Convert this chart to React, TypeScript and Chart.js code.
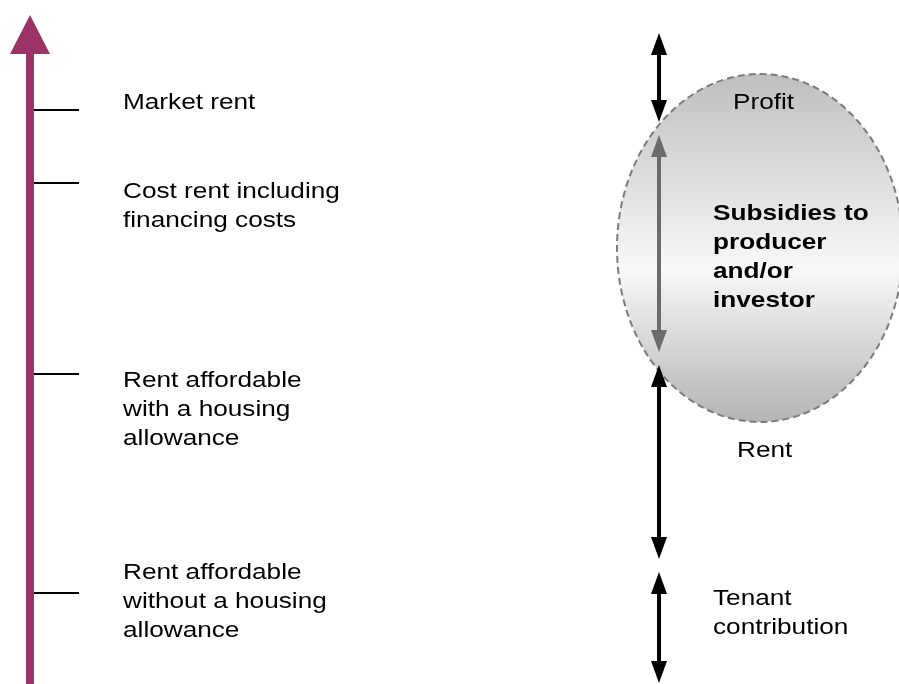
import { useEffect, useRef } from "react";
import { Chart, registerables } from "chart.js";

Chart.register(...registerables);

// ---- Left axis: rent levels (vertical units, 0 = bottom of the diagram) ----
const levelNames = [
  "Market rent",
  "Cost rent including\nfinancing costs",
  "Rent affordable\nwith a housing\nallowance",
  "Rent affordable\nwithout a housing\nallowance",
];
const levelValues = [574, 501, 310, 91];
const levelLabelBaselines = [575, 486, 297, 105];
const axisBottom = 0;
const axisTop = 669;

// ---- Right side: components of the rent ----
const segmentNames = [
  "Profit",
  "Subsidies to\nproducer\nand/or\ninvestor",
  "Rent",
  "Tenant\ncontribution",
];
const segmentTops = [651, 549, 319, 112];
const segmentBottoms = [562, 332, 125, 1];
const segmentColors = ["#000000", "#6b6b6b", "#000000", "#000000"];
const segmentBold = [false, true, false, false];
const segmentLabelX = [733, 713, 737, 713];
const segmentLabelBaselines = [575, 464, 227, 79];

// subsidy ellipse (centre and radii in axis units)
const ellipseCenterX = [760];
const ellipseCenterY = [436];
const ellipseRadiusX = [143];
const ellipseRadiusY = [174];

// horizontal placements (axis units)
const axisX = 30;
const tickStartX = 34;
const tickEndX = 79;
const levelLabelX = 123;
const segmentArrowX = 659;

const PURPLE = "#9b3366";
const FONT = '"Liberation Sans", Arial, Helvetica, sans-serif';
const TEXT_SCALE_X = 1.19;
const LINE_GAP = 29;

const diagramPlugin = {
  id: "diagram",
  beforeDatasetsDraw(chart: any) {
    const { ctx } = chart;
    const xs = chart.scales.x;
    const ys = chart.scales.y;
    for (let i = 0; i < ellipseCenterX.length; i++) {
      const cx = xs.getPixelForValue(ellipseCenterX[i]);
      const cy = ys.getPixelForValue(ellipseCenterY[i]);
      const rx = Math.abs(xs.getPixelForValue(ellipseCenterX[i] + ellipseRadiusX[i]) - cx);
      const ry = Math.abs(ys.getPixelForValue(ellipseCenterY[i] + ellipseRadiusY[i]) - cy);
      ctx.save();
      const g = ctx.createLinearGradient(0, cy - ry, 0, cy + ry);
      g.addColorStop(0, "#bfbfbf");
      g.addColorStop(0.56, "#f8f8f8");
      g.addColorStop(1, "#b4b4b4");
      ctx.beginPath();
      ctx.ellipse(cx, cy, rx, ry, 0, 0, Math.PI * 2);
      ctx.fillStyle = g;
      ctx.fill();
      ctx.setLineDash([7, 4]);
      ctx.lineWidth = 2;
      ctx.strokeStyle = "#7c7c7c";
      ctx.stroke();
      ctx.restore();
    }
  },
  beforeDatasetDraw(chart: any, args: any) {
    const ds: any = chart.data.datasets[args.index];
    if (!ds.arrow) return;
    const { ctx } = chart;
    const pts = args.meta.data;
    const a = pts[0];
    const b = pts[1];
    const dx = b.x - a.x;
    const dy = b.y - a.y;
    const len = Math.hypot(dx, dy) || 1;
    const ux = dx / len;
    const uy = dy / len;
    const { headLen, headHalf, width, start, end } = ds.arrow;
    const color = ds.borderColor;
    ctx.save();
    ctx.strokeStyle = color;
    ctx.fillStyle = color;
    ctx.lineWidth = width;
    ctx.lineCap = "butt";
    const sx = a.x + (start ? ux * headLen * 0.9 : 0);
    const sy = a.y + (start ? uy * headLen * 0.9 : 0);
    const ex = b.x - (end ? ux * headLen * 0.9 : 0);
    const ey = b.y - (end ? uy * headLen * 0.9 : 0);
    ctx.beginPath();
    ctx.moveTo(sx, sy);
    ctx.lineTo(ex, ey);
    ctx.stroke();
    const head = (px: number, py: number, dirx: number, diry: number) => {
      const bx = px - dirx * headLen;
      const by = py - diry * headLen;
      const nx = -diry;
      const ny = dirx;
      ctx.beginPath();
      ctx.moveTo(px, py);
      ctx.lineTo(bx + nx * headHalf, by + ny * headHalf);
      ctx.lineTo(bx - nx * headHalf, by - ny * headHalf);
      ctx.closePath();
      ctx.fill();
    };
    if (end) head(b.x, b.y, ux, uy);
    if (start) head(a.x, a.y, -ux, -uy);
    ctx.restore();
    return false;
  },
  afterDatasetsDraw(chart: any) {
    const { ctx } = chart;
    const xs = chart.scales.x;
    const ys = chart.scales.y;
    const drawBlock = (text: string, xv: number, yv: number, bold: boolean) => {
      const px = xs.getPixelForValue(xv);
      const py = ys.getPixelForValue(yv);
      ctx.save();
      ctx.font = `${bold ? "bold " : ""}22px ${FONT}`;
      ctx.fillStyle = "#000000";
      ctx.textAlign = "left";
      ctx.textBaseline = "alphabetic";
      text.split("\n").forEach((line, i) => {
        ctx.save();
        ctx.translate(px, py + i * LINE_GAP);
        ctx.scale(TEXT_SCALE_X, 1);
        ctx.fillText(line, 0, 0);
        ctx.restore();
      });
      ctx.restore();
    };
    levelNames.forEach((n, i) => drawBlock(n, levelLabelX, levelLabelBaselines[i], false));
    segmentNames.forEach((n, i) =>
      drawBlock(n, segmentLabelX[i], segmentLabelBaselines[i], segmentBold[i])
    );
  },
};

export default function App() {
  const canvasRef = useRef<HTMLCanvasElement | null>(null);

  useEffect(() => {
    document.body.style.margin = "0";
    const canvas = canvasRef.current;
    if (!canvas) return;

    const datasets: any[] = [];
    datasets.push({
      type: "line",
      data: [
        { x: axisX, y: axisBottom },
        { x: axisX, y: axisTop },
      ],
      borderColor: PURPLE,
      borderWidth: 8,
      pointRadius: 0,
      arrow: { headLen: 39, headHalf: 20, width: 8, start: false, end: true },
    });
    levelValues.forEach((v) => {
      datasets.push({
        type: "line",
        data: [
          { x: tickStartX, y: v },
          { x: tickEndX, y: v },
        ],
        borderColor: "#000000",
        borderWidth: 2,
        pointRadius: 0,
        borderCapStyle: "butt",
      });
    });
    segmentTops.forEach((top, i) => {
      datasets.push({
        type: "line",
        data: [
          { x: segmentArrowX, y: segmentBottoms[i] },
          { x: segmentArrowX, y: top },
        ],
        borderColor: segmentColors[i],
        borderWidth: 4,
        pointRadius: 0,
        arrow: { headLen: 22, headHalf: 8, width: 4, start: true, end: true },
      });
    });

    const chart = new Chart(canvas, {
      type: "line",
      data: { datasets },
      options: {
        animation: false,
        responsive: false,
        maintainAspectRatio: false,
        events: [],
        layout: { padding: 0 },
        plugins: {
          legend: { display: false },
          tooltip: { enabled: false },
        },
        scales: {
          x: { type: "linear", min: 0, max: 899, display: false },
          y: { type: "linear", min: 0, max: 684, display: false },
        },
      },
      plugins: [diagramPlugin],
    } as any);

    return () => chart.destroy();
  }, []);

  return (
    <div style={{ position: "absolute", left: 0, top: 0, width: 899, height: 684, background: "#ffffff" }}>
      <canvas ref={canvasRef} width={899} height={684} style={{ display: "block" }} />
    </div>
  );
}
